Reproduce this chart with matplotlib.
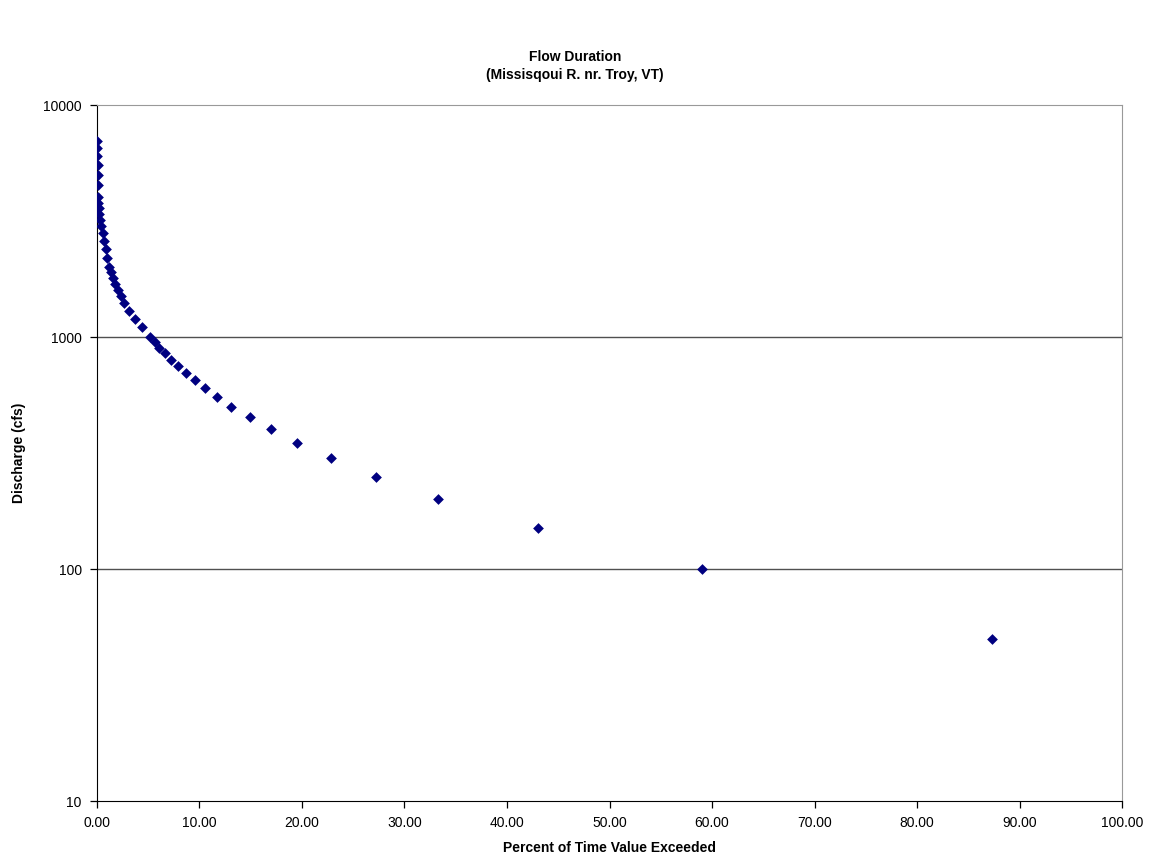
import matplotlib.pyplot as plt
from matplotlib.ticker import FixedLocator, NullLocator, FuncFormatter

# flow duration data
discharge = [7000, 6500, 6000, 5500, 5000, 4500, 4000, 3800, 3600, 3400,
             3200, 3000, 2800, 2600, 2400, 2200, 2000, 1900, 1800, 1700,
             1600, 1500, 1400, 1300, 1200, 1100, 1000, 950, 900, 850,
             800, 750, 700, 650, 600, 550, 500, 450, 400, 350,
             300, 250, 200, 150, 100, 50]
pct_exceeded = [0.03, 0.04, 0.05, 0.06, 0.07, 0.09, 0.12, 0.15, 0.18, 0.24,
                0.33, 0.44, 0.56, 0.70, 0.85, 0.95, 1.20, 1.37, 1.58, 1.80,
                2.05, 2.32, 2.65, 3.12, 3.67, 4.38, 5.13, 5.62, 6.10, 6.60,
                7.18, 7.86, 8.64, 9.52, 10.50, 11.70, 13.05, 14.90, 17.01, 19.55,
                22.80, 27.26, 33.30, 43.00, 59.05, 87.35]

plt.rcParams['font.family'] = ['Liberation Sans', 'DejaVu Sans']

fig = plt.figure(figsize=(11.5, 8.63), dpi=100)
ax = fig.add_axes([0.0843, 0.0718, 0.8914, 0.8065])

ax.scatter(pct_exceeded, discharge, marker='D', s=30, color='#000080', zorder=3, linewidths=0)

ax.set_yscale('log')
ax.set_ylim(10, 10000)
ax.set_xlim(0, 100)
ax.yaxis.set_major_locator(FixedLocator([10, 100, 1000, 10000]))
ax.yaxis.set_minor_locator(NullLocator())
ax.yaxis.set_major_formatter(FuncFormatter(lambda v, p: '%d' % v))
ax.set_xticks(range(0, 101, 10))
ax.xaxis.set_major_formatter(FuncFormatter(lambda v, p: '%.2f' % v))

for g in [100, 1000]:
    ax.axhline(g, color='#505050', lw=1.0, zorder=1)

ax.spines['top'].set_color('#999999')
ax.spines['right'].set_color('#999999')
ax.spines['left'].set_color('#000000')
ax.spines['bottom'].set_color('#000000')
ax.tick_params(direction='out', length=5, width=0.9, labelsize=10, pad=6)

ax.set_xlabel('Percent of Time Value Exceeded', fontsize=10, fontweight='bold', labelpad=8)
ax.set_ylabel('Discharge (cfs)', fontsize=10, fontweight='bold', labelpad=12)
fig.text(0.5, 0.9235, 'Flow Duration\n(Missisqoui R. nr. Troy, VT)', ha='center', va='center',
         fontsize=10, fontweight='bold', linespacing=1.4)

fig.savefig('out.png', dpi=100)
